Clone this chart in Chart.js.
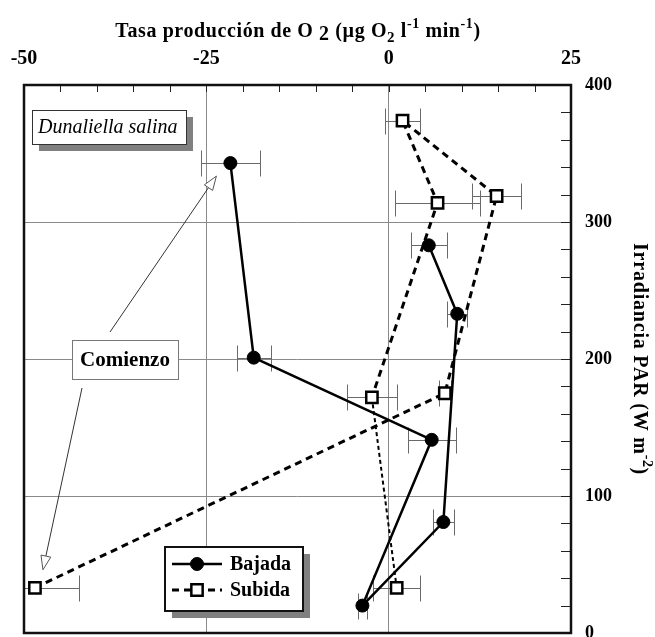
<!DOCTYPE html>
<html>
<head>
<meta charset="utf-8">
<script src="https://cdn.jsdelivr.net/npm/chart.js@4/dist/chart.umd.min.js"></script>
<style>
  html, body { margin: 0; padding: 0; background: #fff; }
  #wrap { width: 655px; height: 637px; }
</style>
</head>
<body>
<div id="wrap"><canvas id="c" width="655" height="637"></canvas></div>
<script>
// O2 production rate (top axis) against PAR irradiance (right axis), Dunaliella salina.
// "Bajada": irradiance going down; "Subida": irradiance going up.
const bajadaRate = [-21.7, -18.5, 5.9, -3.6, 7.5, 9.4, 5.5];
const bajadaPAR  = [343, 201, 141, 20, 81, 233, 283];
const bajadaErr  = [4.0, 2.3, 3.3, 0.6, 1.4, 1.4, 2.5];

const subidaRate = [-48.5, 7.7, 14.8, 1.9, 6.7, -2.3, 1.1];
const subidaPAR  = [33, 175, 319, 374, 314, 172, 33];
const subidaErr  = [6.1, 0.8, 3.4, 2.35, 5.8, 3.4, 3.25];

const rateTicks = [-50, -25, 0, 25];
const parTicks  = [0, 100, 200, 300, 400];

const SERIF = '"Liberation Serif", "Times New Roman", serif';

function points(xs, ys) { return xs.map((v, i) => ({ x: v, y: ys[i] })); }

// horizontal error bars, clipped to the plot area
const errorBars = {
  id: 'errorBars',
  beforeDatasetsDraw(chart) {
    const { ctx, chartArea: a, scales: { x, y } } = chart;
    ctx.save();
    ctx.beginPath();
    ctx.rect(a.left, a.top, a.right - a.left, a.bottom - a.top);
    ctx.clip();
    ctx.strokeStyle = '#6a6a6a';
    ctx.lineWidth = 1;
    chart.data.datasets.forEach(ds => {
      ds.data.forEach((p, i) => {
        const e = ds.xErr[i];
        const py = Math.round(y.getPixelForValue(p.y)) + 0.5;
        const x0 = Math.round(x.getPixelForValue(p.x - e)) + 0.5;
        const x1 = Math.round(x.getPixelForValue(p.x + e)) + 0.5;
        ctx.beginPath();
        ctx.moveTo(x0, py); ctx.lineTo(x1, py);
        ctx.moveTo(x0, py - 13); ctx.lineTo(x0, py + 13);
        ctx.moveTo(x1, py - 13); ctx.lineTo(x1, py + 13);
        ctx.stroke();
      });
    });
    ctx.restore();
  }
};

function setFont(ctx, p) {
  ctx.font = `bold ${p.size}px ${SERIF}`;
  ctx.letterSpacing = (p.ls || 0) + 'px';
}
function drawParts(ctx, parts, x, y) {
  let cx = x;
  parts.forEach(p => {
    setFont(ctx, p);
    ctx.fillText(p.t, cx, y + (p.dy || 0));
    cx += ctx.measureText(p.t).width;
  });
  ctx.letterSpacing = '0px';
}
function partsWidth(ctx, parts) {
  const w = parts.reduce((s, p) => { setFont(ctx, p); return s + ctx.measureText(p.t).width; }, 0);
  ctx.letterSpacing = '0px';
  return w;
}

function arrow(ctx, sx, sy, tx, ty) {
  const ang = Math.atan2(ty - sy, tx - sx);
  const len = 14, half = 5;
  const bx = tx - len * Math.cos(ang), by = ty - len * Math.sin(ang);
  ctx.strokeStyle = '#333';
  ctx.lineWidth = 1;
  ctx.beginPath(); ctx.moveTo(sx, sy); ctx.lineTo(bx, by); ctx.stroke();
  ctx.beginPath();
  ctx.moveTo(tx, ty);
  ctx.lineTo(bx + half * Math.sin(ang), by - half * Math.cos(ang));
  ctx.lineTo(bx - half * Math.sin(ang), by + half * Math.cos(ang));
  ctx.closePath();
  ctx.fillStyle = '#fff'; ctx.fill();
  ctx.strokeStyle = '#555'; ctx.stroke();
}

const decorations = {
  id: 'decorations',
  afterDraw(chart) {
    const { ctx, chartArea: a, scales: { x, y } } = chart;
    ctx.save();

    // inward minor ticks on the top and right edges
    ctx.strokeStyle = '#222';
    ctx.lineWidth = 1;
    ctx.beginPath();
    for (let v = x.min; v <= x.max; v += 5) {
      const px = Math.round(x.getPixelForValue(v)) + 0.5;
      ctx.moveTo(px, a.top); ctx.lineTo(px, a.top + 7);
    }
    for (let v = y.min; v <= y.max; v += 20) {
      const py = Math.round(y.getPixelForValue(v)) + 0.5;
      ctx.moveTo(a.right, py); ctx.lineTo(a.right - 10, py);
    }
    ctx.stroke();

    // frame
    ctx.strokeStyle = '#111';
    ctx.lineWidth = 2.5;
    ctx.strokeRect(a.left, a.top, a.right - a.left, a.bottom - a.top);

    // axis titles
    ctx.fillStyle = '#000';
    ctx.textBaseline = 'alphabetic';
    ctx.textAlign = 'left';
    const topTitle = [
      { t: 'Tasa producción de O ', size: 20, ls: 0.6 },
      { t: '2', size: 20, dy: 3, ls: 0.6 },
      { t: ' (µg O', size: 20, ls: 0.6 },
      { t: '2', size: 15, dy: 5, ls: 0.6 },
      { t: ' l', size: 20, ls: 0.6 },
      { t: '-1', size: 14, dy: -9, ls: 0.6 },
      { t: ' min', size: 20, ls: 0.6 },
      { t: '-1', size: 14, dy: -9, ls: 0.6 },
      { t: ')', size: 20, ls: 0.6 }
    ];
    drawParts(ctx, topTitle, 298 - partsWidth(ctx, topTitle) / 2, 37);

    const rightTitle = [
      { t: 'Irradiancia PAR (W m', size: 20, ls: 0.8 },
      { t: '-2', size: 14, dy: -9, ls: 0.6 },
      { t: ')', size: 20, ls: 0.8 }
    ];
    ctx.save();
    ctx.translate(634, (a.top + a.bottom) / 2);
    ctx.rotate(Math.PI / 2);
    drawParts(ctx, rightTitle, -partsWidth(ctx, rightTitle) / 2, 0);
    ctx.restore();

    // species label box with drop shadow
    const sb = { l: a.left + 8, t: a.top + 25, w: 154, h: 34 };
    ctx.fillStyle = '#808080';
    ctx.fillRect(sb.l + 7, sb.t + 7, sb.w, sb.h);
    ctx.fillStyle = '#fff';
    ctx.fillRect(sb.l, sb.t, sb.w, sb.h);
    ctx.strokeStyle = '#333'; ctx.lineWidth = 1;
    ctx.strokeRect(sb.l + 0.5, sb.t + 0.5, sb.w, sb.h);
    ctx.fillStyle = '#000';
    ctx.font = `italic 20px ${SERIF}`;
    ctx.textAlign = 'left'; ctx.textBaseline = 'middle';
    ctx.fillText('Dunaliella salina', sb.l + 6, sb.t + sb.h / 2 + 1);

    // "Comienzo" label with arrows to the first point of each run
    const cx = x.getPixelForValue(-36.15), cy = y.getPixelForValue(200);
    const cb = { l: cx - 53, t: cy - 19, w: 106, h: 39 };
    const b0 = chart.getDatasetMeta(0).data[0];
    const s0 = chart.getDatasetMeta(1).data[0];
    arrow(ctx, cb.l + 38, cb.t - 8, b0.x - 14, b0.y + 13);
    arrow(ctx, cb.l + 10, cb.t + cb.h + 9, s0.x + 8, s0.y - 18);
    ctx.fillStyle = '#fff';
    ctx.fillRect(cb.l, cb.t, cb.w, cb.h);
    ctx.strokeStyle = '#777'; ctx.lineWidth = 1;
    ctx.strokeRect(cb.l + 0.5, cb.t + 0.5, cb.w, cb.h);
    ctx.fillStyle = '#000';
    ctx.font = `bold 21px ${SERIF}`;
    ctx.textAlign = 'center';
    ctx.fillText('Comienzo', cb.l + cb.w / 2, cb.t + cb.h / 2 + 1);

    // legend with drop shadow
    const lb = { l: a.left + 141, t: a.bottom - 86, w: 138, h: 64 };
    ctx.fillStyle = '#808080';
    ctx.fillRect(lb.l + 7, lb.t + 7, lb.w, lb.h);
    ctx.fillStyle = '#fff';
    ctx.fillRect(lb.l, lb.t, lb.w, lb.h);
    ctx.strokeStyle = '#111'; ctx.lineWidth = 2;
    ctx.strokeRect(lb.l, lb.t, lb.w, lb.h);
    chart.data.datasets.forEach((ds, i) => {
      const ry = lb.t + 17 + i * 26;
      ctx.strokeStyle = '#000';
      ctx.lineWidth = ds.borderWidth;
      ctx.setLineDash(ds.borderDash || []);
      ctx.beginPath(); ctx.moveTo(lb.l + 7, ry); ctx.lineTo(lb.l + 57, ry); ctx.stroke();
      ctx.setLineDash([]);
      ctx.fillStyle = ds.pointBackgroundColor;
      ctx.strokeStyle = '#000';
      ctx.lineWidth = ds.pointBorderWidth;
      ctx.beginPath();
      if (ds.pointStyle === 'circle') ctx.arc(lb.l + 32, ry, ds.pointRadius, 0, Math.PI * 2);
      else { const s = ds.pointRadius * Math.SQRT1_2; ctx.rect(lb.l + 32 - s, ry - s, 2 * s, 2 * s); }
      ctx.fill(); ctx.stroke();
      ctx.fillStyle = '#000';
      ctx.font = `bold 20px ${SERIF}`;
      ctx.textAlign = 'left'; ctx.textBaseline = 'middle';
      ctx.fillText(ds.label, lb.l + 65, ry + 1);
    });

    ctx.restore();
  }
};

new Chart(document.getElementById('c'), {
  type: 'scatter',
  data: {
    datasets: [
      {
        label: 'Bajada',
        data: points(bajadaRate, bajadaPAR),
        xErr: bajadaErr,
        showLine: true,
        borderColor: '#000',
        borderWidth: 2.5,
        pointStyle: 'circle',
        pointRadius: 6.5,
        pointBackgroundColor: '#000',
        pointBorderColor: '#000',
        pointBorderWidth: 1
      },
      {
        label: 'Subida',
        data: points(subidaRate, subidaPAR),
        xErr: subidaErr,
        showLine: true,
        borderColor: '#000',
        borderWidth: 3,
        borderDash: [7, 5],
        segment: {
          borderWidth: c => c.p0DataIndex === 5 ? 2 : undefined,
          borderDash: c => c.p0DataIndex === 5 ? [4, 3] : undefined
        },
        pointStyle: 'rect',
        pointRadius: 8,
        pointBackgroundColor: '#fff',
        pointBorderColor: '#000',
        pointBorderWidth: 2.5
      }
    ]
  },
  options: {
    responsive: false,
    devicePixelRatio: 1,
    animation: false,
    layout: { autoPadding: false, padding: { left: 24, right: 0, top: 0, bottom: 4 } },
    plugins: { legend: { display: false }, tooltip: { enabled: false } },
    scales: {
      x: {
        type: 'linear',
        position: 'top',
        min: -50, max: 25,
        afterBuildTicks: s => { s.ticks = rateTicks.map(v => ({ value: v })); },
        ticks: { color: '#000', padding: 14, font: { family: SERIF, size: 20, weight: 'bold' } },
        grid: { color: '#8a8a8a', lineWidth: 1, drawTicks: false },
        border: { display: false },
        afterFit: s => { s.height = 85; s.paddingLeft = 0; s.paddingRight = 0; }
      },
      y: {
        type: 'linear',
        position: 'right',
        min: 0, max: 400,
        afterBuildTicks: s => { s.ticks = parTicks.map(v => ({ value: v })); },
        ticks: { color: '#000', padding: 14, font: { family: SERIF, size: 18, weight: 'bold' } },
        grid: { color: '#8a8a8a', lineWidth: 1, drawTicks: false },
        border: { display: false },
        afterFit: s => { s.width = 84; s.paddingTop = 0; s.paddingBottom = 0; }
      }
    }
  },
  plugins: [errorBars, decorations]
});
</script>
</body>
</html>
